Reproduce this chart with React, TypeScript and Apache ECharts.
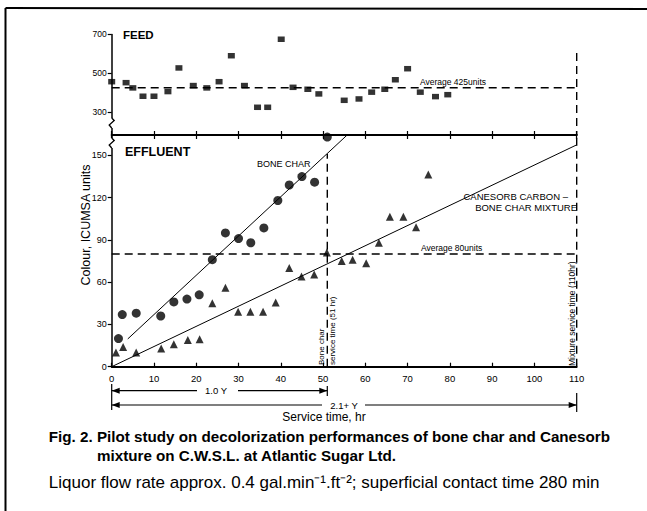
import React, { useEffect, useRef } from "react";
import * as echarts from "echarts";

// ---- data ----
const feedHours = [0, 3.4, 5, 7.4, 10, 13.3, 15.9, 19.3, 22.5, 25.4, 28.3, 31.4, 34.5, 36.9, 40.1, 42.9, 46.4, 49, 55, 58.5, 61.5, 64.6, 67.1, 70, 73, 76.6, 79.5];
const feedColour = [456, 451, 424, 381, 381, 405, 527, 436, 424, 456, 590, 436, 324, 324, 675, 427, 417, 393, 360, 367, 402, 417, 466, 523, 402, 379, 389];

const boneCharHours = [1.6, 2.5, 5.8, 11.6, 14.7, 17.8, 20.7, 23.8, 26.9, 30, 32.9, 36, 39.3, 42, 45, 48, 51];
const boneCharColour = [20, 37, 38, 36, 46, 48, 51, 76, 95, 91, 88, 98.5, 118, 129, 135, 131, 163];

const mixtureHours = [1, 2.7, 5.8, 11.7, 14.7, 18, 20.8, 23.8, 26.9, 29.9, 32.8, 35.8, 38.8, 42, 44.9, 47.9, 50.9, 54.4, 57, 60.2, 63.2, 65.8, 69, 72, 74.9];
const mixtureColour = [10, 14, 10, 13, 16, 19, 19.5, 45, 56, 39, 39, 39, 45.5, 70, 64, 65.5, 81, 75, 76, 73.5, 88, 106.5, 106.5, 99, 136.5];

const boneCharFitHours = [3.8, 55.7];
const boneCharFitColour = [19.7, 164.5];
const mixtureFitHours = [0, 110];
const mixtureFitColour = [0, 157.5];

const feedAverage = 425;
const effluentAverage = 80;
const boneCharServiceTime = 51;
const mixtureServiceTime = 110;

const hourTicks = [0, 10, 20, 30, 40, 50, 60, 70, 80, 90, 100, 110];
const feedTicks = [300, 500, 700];
const effluentTicks = [0, 30, 60, 90, 120, 150];

const FEED_MIN = 181;
const FEED_MAX = 700;
const EFF_MAX = 164.5;
const FEED_DASH_TOP = 604;

const FONT = '"Liberation Sans", Arial, sans-serif';
const BLACK = "#000";

const zip = (a: number[], b: number[]) => a.map((v, i) => [v, b[i]]);

export default function App() {
  const ref = useRef<HTMLDivElement>(null);
  useEffect(() => {
    const chart = echarts.init(ref.current!, null, { renderer: "svg" });
    const axisLine = { show: true, onZero: false, lineStyle: { color: BLACK, width: 1.8 } };
    const dashed = { color: BLACK, width: 1.4, type: [8, 5] as any };
    const option: any = {
      animation: false,
      backgroundColor: "#fff",
      grid: [
        { left: 111.7, top: 34.4, width: 465, height: 100.6 },
        { left: 111.7, top: 135, width: 465, height: 231.7 },
      ],
      xAxis: [
        {
          gridIndex: 0, type: "value", min: 0, max: 110, interval: 10, position: "bottom",
          axisLine, axisTick: { inside: true, length: 4, lineStyle: { color: BLACK, width: 1.2 } },
          axisLabel: { show: false }, splitLine: { show: false },
        },
        {
          gridIndex: 1, type: "value", min: 0, max: 110, interval: 10, position: "bottom",
          axisLine, axisTick: { inside: true, length: 4, lineStyle: { color: BLACK, width: 1.2 } },
          axisLabel: { color: BLACK, fontSize: 9.5, margin: 7, fontFamily: FONT, customValues: hourTicks },
          splitLine: { show: false },
        },
        {
          gridIndex: 1, type: "value", min: 0, max: 110, interval: 10, position: "top",
          axisLine, axisTick: { inside: true, length: 4, lineStyle: { color: BLACK, width: 1.2 } },
          axisLabel: { show: false }, splitLine: { show: false },
        },
      ],
      yAxis: [
        {
          gridIndex: 0, type: "value", min: FEED_MIN, max: FEED_MAX,
          axisLine: { show: true, onZero: false, lineStyle: { color: BLACK, width: 1.5 } },
          axisTick: { show: true, length: 4, customValues: feedTicks, lineStyle: { color: BLACK, width: 1.2 } },
          axisLabel: { color: BLACK, fontSize: 8.5, margin: 5, fontFamily: FONT, customValues: feedTicks },
          splitLine: { show: false },
        },
        {
          gridIndex: 1, type: "value", min: 0, max: EFF_MAX,
          axisLine: { show: true, onZero: false, lineStyle: { color: BLACK, width: 1.5 } },
          axisTick: { show: true, length: 4, customValues: effluentTicks, lineStyle: { color: BLACK, width: 1.2 } },
          axisLabel: { color: BLACK, fontSize: 9, margin: 5, fontFamily: FONT, customValues: effluentTicks },
          splitLine: { show: false },
        },
      ],
      series: [
        {
          name: "Feed", type: "scatter", xAxisIndex: 0, yAxisIndex: 0,
          symbol: "rect", symbolSize: [7, 5.5], itemStyle: { color: BLACK },
          data: zip(feedHours, feedColour),
        },
        {
          name: "Feed average", type: "line", xAxisIndex: 0, yAxisIndex: 0, showSymbol: false,
          lineStyle: dashed, data: [[0, feedAverage], [110, feedAverage]],
        },
        {
          name: "Mixture service (feed)", type: "line", xAxisIndex: 0, yAxisIndex: 0, showSymbol: false,
          lineStyle: dashed, data: [[mixtureServiceTime, FEED_DASH_TOP], [mixtureServiceTime, FEED_MIN]],
        },
        {
          name: "Effluent average", type: "line", xAxisIndex: 1, yAxisIndex: 1, showSymbol: false,
          lineStyle: dashed, data: [[0, effluentAverage], [110, effluentAverage]],
        },
        {
          name: "Bone char service", type: "line", xAxisIndex: 1, yAxisIndex: 1, showSymbol: false,
          lineStyle: dashed, data: [[boneCharServiceTime, 0], [boneCharServiceTime, 151]],
        },
        {
          name: "Mixture service", type: "line", xAxisIndex: 1, yAxisIndex: 1, showSymbol: false,
          lineStyle: dashed, data: [[mixtureServiceTime, 0], [mixtureServiceTime, EFF_MAX]],
        },
        {
          name: "Bone char fit", type: "line", xAxisIndex: 1, yAxisIndex: 1, showSymbol: false,
          lineStyle: { color: BLACK, width: 1 }, data: zip(boneCharFitHours, boneCharFitColour),
        },
        {
          name: "Mixture fit", type: "line", xAxisIndex: 1, yAxisIndex: 1, showSymbol: false,
          lineStyle: { color: BLACK, width: 1 }, data: zip(mixtureFitHours, mixtureFitColour),
        },
        {
          name: "Bone char", type: "scatter", xAxisIndex: 1, yAxisIndex: 1, clip: false,
          symbol: "circle", symbolSize: 9, itemStyle: { color: BLACK },
          data: zip(boneCharHours, boneCharColour),
        },
        {
          name: "Mixture", type: "scatter", xAxisIndex: 1, yAxisIndex: 1,
          symbol: "triangle", symbolSize: 8, itemStyle: { color: BLACK },
          data: zip(mixtureHours, mixtureColour),
        },
      ],
    };
    chart.setOption(option);

    const X = (h: number) => chart.convertToPixel({ xAxisIndex: 1 }, h) as number;
    const x0 = X(0);
    const x51 = X(boneCharServiceTime);
    const x110 = X(mixtureServiceTime);
    const yAxisX = x0;

    const txt = (text: string, x: number, y: number, o: any = {}, rotation = 0) => ({
      type: "text", x, y, rotation, z: 60, silent: true,
      style: {
        text, fill: BLACK, fontFamily: FONT, fontSize: o.fontSize ?? 9,
        fontWeight: o.fontWeight ?? "normal", align: o.align ?? "left",
        verticalAlign: "middle",
      },
    });
    const ln = (x1: number, y1: number, x2: number, y2: number, w = 1.2) => ({
      type: "line", z: 55, silent: true, shape: { x1, y1, x2, y2 }, style: { stroke: BLACK, lineWidth: w },
    });
    const tri = (pts: number[][]) => ({ type: "polygon", z: 56, silent: true, shape: { points: pts }, style: { fill: BLACK } });
    const brk = (cy: number) => [
      { type: "rect", z: 57, silent: true, shape: { x: yAxisX - 2.5, y: cy - 5, width: 5, height: 10 }, style: { fill: "#fff" } },
      { type: "polyline", z: 58, silent: true, shape: { points: [[yAxisX, cy - 5], [yAxisX + 2.5, cy - 2.5], [yAxisX - 2.5, cy + 2], [yAxisX, cy + 5]] }, style: { stroke: BLACK, lineWidth: 1.3, fill: "none" } },
    ];

    const r1 = 390.7;
    const r2 = 405;
    const graphic: any[] = [
      // frame
      ln(5.5, 8, 647, 9, 2),
      ln(5.5, 8, 5.5, 511, 2),
      // panel labels
      txt("FEED", 123, 35, { fontSize: 11.5, fontWeight: "bold" }),
      txt("EFFLUENT", 125, 152, { fontSize: 12.5, fontWeight: "bold" }),
      txt("BONE CHAR", 257, 164, { fontSize: 9 }),
      txt("CANESORB CARBON \u2013", 568, 196, { fontSize: 9.5, align: "right" }),
      txt("BONE CHAR MIXTURE", 577, 207, { fontSize: 9.5, align: "right" }),
      txt("Average 425units", 420, 82, { fontSize: 8.5 }),
      txt("Average 80units", 421, 248, { fontSize: 8.5 }),
      // vertical annotations
      txt("Bone char", x51 - 5.5, 365, { fontSize: 8 }, Math.PI / 2),
      txt("service time (51 hr)", x51 + 5.5, 365, { fontSize: 8 }, Math.PI / 2),
      txt("Mixture service time (110hr)", x110 - 5, 366, { fontSize: 8.5 }, Math.PI / 2),
      txt("Colour, ICUMSA units", 85.5, 225, { fontSize: 12.5, align: "center" }, Math.PI / 2),
      // axis breaks
      ...brk(123),
      ...brk(143),
      // 1.0 Y arrow
      ln(x0, 384, x0, 410),
      ln(x51, 386, x51, 396),
      ln(x0, r1, 197, r1),
      ln(238, r1, x51, r1),
      tri([[x0, r1], [x0 + 8, r1 - 3], [x0 + 8, r1 + 3]]),
      tri([[x51, r1], [x51 - 8, r1 - 3], [x51 - 8, r1 + 3]]),
      txt("1.0 Y", 216, r1, { fontSize: 9.5, align: "center" }),
      // 2.1+ Y arrow
      ln(x110, 393, x110, 412),
      ln(x0, r2, 322, r2),
      ln(365, r2, x110, r2),
      tri([[x0, r2], [x0 + 8, r2 - 3], [x0 + 8, r2 + 3]]),
      tri([[x110, r2], [x110 - 8, r2 - 3], [x110 - 8, r2 + 3]]),
      txt("2.1+ Y", 344, r2, { fontSize: 9.5, align: "center" }),
      txt("Service time, hr", 324, 417, { fontSize: 12, align: "center" }),
      // caption
      txt("Fig. 2. Pilot study on decolorization performances of bone char and Canesorb", 48.8, 436.5, { fontSize: 15.2, fontWeight: "bold" }),
      txt("mixture on C.W.S.L. at Atlantic Sugar Ltd.", 97, 455, { fontSize: 15.2, fontWeight: "bold" }),
      txt("Liquor flow rate approx. 0.4 gal.min\u207B\u00B9.ft\u207B\u00B2; superficial contact time 280 min", 48.8, 482, { fontSize: 17 }),
    ];
    chart.setOption({ graphic });
    return () => chart.dispose();
  }, []);
  return <div ref={ref} style={{ position: "absolute", left: 0, top: 0, width: 647, height: 511 }} />;
}
